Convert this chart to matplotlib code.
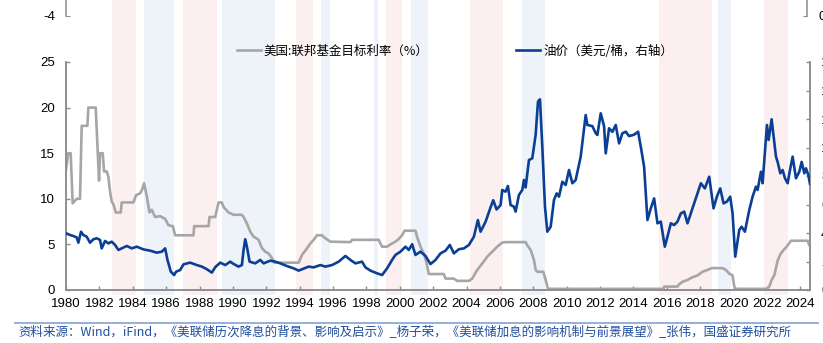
import matplotlib
matplotlib.use('Agg')
import matplotlib.pyplot as plt
from matplotlib.lines import Line2D

plt.rcParams['font.family'] = ['Liberation Sans', 'Noto Sans CJK SC', 'DejaVu Sans']
plt.rcParams['axes.unicode_minus'] = False

# 美国联邦基金目标利率 (%)
fed_years = [1980.0, 1980.14, 1980.28, 1980.40, 1980.54, 1980.64, 1980.84, 1980.94, 1981.28, 1981.34,
             1981.78, 1981.98, 1982.04, 1982.20, 1982.28, 1982.44, 1982.54, 1982.64, 1982.74, 1982.84,
             1982.98, 1983.28, 1983.34, 1984.04, 1984.20, 1984.44, 1984.56, 1984.68, 1984.84, 1985.00,
             1985.14, 1985.34, 1985.64, 1985.94, 1986.14, 1986.40, 1986.54, 1987.64, 1987.68, 1988.54,
             1988.60, 1988.94, 1989.14, 1989.34, 1989.44, 1989.74, 1990.04, 1990.54, 1990.64, 1990.84,
             1991.04, 1991.24, 1991.54, 1991.74, 1991.94, 1992.14, 1992.34, 1992.48, 1993.94, 1994.14,
             1994.44, 1994.64, 1994.84, 1995.04, 1995.34, 1995.48, 1995.84, 1997.04, 1997.14, 1998.74,
             1998.84, 1998.94, 1999.24, 1999.44, 1999.74, 1999.94, 2000.14, 2000.28, 2000.94, 2001.04,
             2001.24, 2001.44, 2001.60, 2001.74, 2002.64, 2002.74, 2003.24, 2003.44, 2004.14, 2004.34,
             2004.64, 2004.94, 2005.24, 2005.54, 2005.84, 2006.14, 2006.34, 2007.54, 2007.64, 2007.84,
             2008.04, 2008.14, 2008.24, 2008.60, 2008.74, 2008.88, 2015.80, 2015.84, 2016.64, 2016.74,
             2016.94, 2017.24, 2017.54, 2017.84, 2018.14, 2018.44, 2018.68, 2019.34, 2019.54, 2019.74,
             2019.94, 2020.04, 2020.10, 2022.00, 2022.14, 2022.28, 2022.44, 2022.54, 2022.64, 2022.80,
             2023.00, 2023.16, 2023.28, 2023.44, 2024.44, 2024.54, 2024.60]
fed_rate = [13.2, 15.0, 15.0, 9.5, 9.8, 10.0, 10.0, 18.0, 18.0, 20.0,
            20.0, 12.0, 15.0, 15.0, 13.0, 13.0, 12.4, 10.8, 9.7, 9.4,
            8.5, 8.5, 9.6, 9.6, 10.4, 10.6, 11.0, 11.7, 10.3, 8.5,
            8.8, 8.0, 8.1, 7.8, 7.1, 7.0, 6.0, 6.0, 7.0, 7.0,
            8.0, 8.0, 9.6, 9.6, 9.1, 8.5, 8.25, 8.25, 8.0, 7.3,
            6.4, 5.85, 5.5, 4.6, 4.2, 4.0, 3.5, 3.0, 3.0, 3.84,
            4.57, 5.1, 5.5, 6.0, 6.0, 5.75, 5.3, 5.25, 5.5, 5.5,
            5.1, 4.75, 4.75, 5.0, 5.3, 5.6, 6.0, 6.5, 6.5, 5.8,
            4.75, 4.0, 3.0, 1.75, 1.75, 1.25, 1.25, 1.0, 1.0, 1.25,
            2.2, 2.9, 3.65, 4.2, 4.75, 5.2, 5.25, 5.25, 4.9, 4.4,
            3.3, 2.2, 2.0, 2.0, 1.1, 0.125, 0.125, 0.375, 0.375, 0.625,
            0.9, 1.1, 1.4, 1.6, 2.0, 2.2, 2.4, 2.4, 2.2, 1.8,
            1.6, 0.4, 0.125, 0.125, 0.375, 1.1, 1.6, 2.4, 3.2, 3.9,
            4.4, 4.7, 5.0, 5.4, 5.4, 4.9, 4.8]

# 油价 (美元/桶, 右轴)
oil_years = [1980.0, 1980.24, 1980.44, 1980.64, 1980.74, 1980.90, 1981.04, 1981.24, 1981.44, 1981.64,
             1981.84, 1982.04, 1982.14, 1982.34, 1982.54, 1982.74, 1982.94, 1983.14, 1983.34, 1983.64,
             1983.94, 1984.24, 1984.64, 1985.04, 1985.44, 1985.74, 1985.94, 1986.08, 1986.28, 1986.48,
             1986.60, 1986.84, 1987.04, 1987.44, 1987.84, 1988.14, 1988.44, 1988.74, 1988.94, 1989.24,
             1989.54, 1989.84, 1990.04, 1990.34, 1990.54, 1990.64, 1990.74, 1990.84, 1991.00, 1991.34,
             1991.64, 1991.84, 1992.24, 1992.54, 1992.84, 1993.24, 1993.64, 1993.94, 1994.54, 1994.84,
             1995.24, 1995.54, 1995.94, 1996.34, 1996.74, 1997.04, 1997.34, 1997.74, 1997.94, 1998.24,
             1998.64, 1998.94, 1999.24, 1999.54, 1999.74, 2000.04, 2000.34, 2000.54, 2000.74, 2000.94,
             2001.24, 2001.54, 2001.84, 2002.14, 2002.44, 2002.74, 2003.00, 2003.24, 2003.54, 2003.84,
             2004.14, 2004.44, 2004.68, 2004.84, 2005.14, 2005.44, 2005.60, 2005.80, 2006.04, 2006.14,
             2006.34, 2006.48, 2006.64, 2006.84, 2006.94, 2007.14, 2007.34, 2007.44, 2007.54, 2007.74,
             2007.94, 2008.14, 2008.28, 2008.40, 2008.54, 2008.70, 2008.84, 2009.04, 2009.24, 2009.40,
             2009.54, 2009.74, 2009.94, 2010.14, 2010.34, 2010.54, 2010.84, 2011.14, 2011.24, 2011.54,
             2011.74, 2011.84, 2012.04, 2012.24, 2012.34, 2012.54, 2012.74, 2012.94, 2013.14, 2013.34,
             2013.54, 2013.74, 2014.04, 2014.28, 2014.44, 2014.64, 2014.84, 2015.04, 2015.24, 2015.44,
             2015.64, 2015.88, 2016.04, 2016.24, 2016.44, 2016.64, 2016.84, 2017.04, 2017.24, 2017.54,
             2017.84, 2018.04, 2018.28, 2018.54, 2018.80, 2019.00, 2019.20, 2019.40, 2019.60, 2019.80,
             2019.94, 2020.10, 2020.34, 2020.48, 2020.68, 2020.94, 2021.14, 2021.34, 2021.44, 2021.64,
             2021.74, 2022.00, 2022.10, 2022.28, 2022.54, 2022.64, 2022.80, 2022.94, 2023.08, 2023.24,
             2023.40, 2023.54, 2023.74, 2023.94, 2024.08, 2024.24, 2024.34, 2024.48, 2024.58]
oil_price = [39.8, 38.6, 37.9, 36.9, 33.2, 40.9, 38.6, 37.4, 33.2, 35.6,
             36.3, 35.1, 29.2, 34.4, 32.7, 33.9, 31.6, 28.1, 29.2, 30.9,
             29.2, 30.4, 28.5, 27.6, 26.2, 26.9, 29.2, 21.1, 12.9, 10.5,
             12.9, 14.0, 18.0, 19.2, 17.5, 16.4, 14.6, 12.2, 16.0, 19.2,
             17.5, 19.9, 18.3, 16.4, 17.5, 28.1, 35.6, 30.4, 19.9, 18.7,
             21.1, 18.7, 20.6, 19.9, 18.7, 16.8, 15.2, 13.6, 16.4, 15.9,
             17.5, 16.4, 17.5, 19.9, 23.9, 21.1, 18.7, 19.9, 15.9, 13.6,
             11.7, 10.5, 15.2, 21.1, 24.6, 26.9, 30.4, 28.1, 32.1, 24.6,
             26.9, 23.9, 18.2, 21.1, 25.7, 27.6, 31.6, 25.7, 28.6, 29.2,
             31.6, 37.4, 49.1, 40.9, 47.9, 58.0, 63.0, 56.5, 59.6, 70.2,
             69.0, 73.0, 59.6, 58.5, 55.0, 66.7, 70.2, 77.2, 72.0, 91.2,
             92.4, 108.8, 132.2, 133.8, 100.6, 58.5, 40.9, 44.4, 63.2, 67.8,
             65.5, 76.0, 73.7, 84.2, 74.9, 77.2, 93.6, 122.8, 115.8, 115.0,
             110.0, 108.8, 124.0, 115.0, 95.9, 113.5, 111.0, 115.8, 102.9, 110.0,
             111.1, 108.0, 109.0, 111.1, 100.6, 86.5, 49.1, 57.3, 64.3, 46.8,
             48.0, 30.4, 37.4, 46.8, 45.6, 48.0, 53.8, 55.0, 46.8, 57.3,
             67.8, 74.9, 71.3, 79.5, 57.3, 65.5, 71.3, 60.8, 62.0, 65.5,
             53.8, 23.4, 42.1, 44.4, 40.9, 56.1, 65.5, 72.5, 70.2, 83.0,
             74.9, 115.8, 105.3, 119.8, 93.6, 89.9, 81.9, 84.2, 78.4, 74.9,
             85.4, 93.6, 78.4, 83.0, 89.9, 81.9, 85.4, 80.7, 74.4]

# shaded periods (start, end)
pink_periods = [(1982.75, 1984.2), (1987.0, 1989.05), (1993.8, 1994.8), (1999.2, 2000.15),
                (2004.2, 2006.2), (2015.55, 2018.7), (2021.8, 2023.25)]
blue_periods = [(1984.7, 1986.5), (1989.35, 1992.5), (1995.3, 1995.8), (1998.45, 1998.7),
                (2000.65, 2001.7), (2007.3, 2008.7), (2019.05, 2019.85)]

year_ticks = list(range(1980, 2025, 2))
left_ticks = [0, 5, 10, 15, 20, 25]
right_ticks = [0, 20, 40, 60, 80, 100, 120, 140, 160]

source_text = ('资料来源：Wind，iFind，《美联储历次降息的背景、影响及启示》_杨子荣，'
               '《美联储加息的影响机制与前景展望》_张伟，国盛证券研究所')

W, H = 823, 343
fig = plt.figure(figsize=(W / 100, H / 100), dpi=100)

gray = '#a6a6a6'
blue = '#0b3f95'
spine_c = '#8c8c8c'

# main chart
ax = fig.add_axes([66 / W, (H - 290) / H, (810 - 66) / W, 228 / H])
ax2 = ax.twinx()

for s, e in pink_periods:
    ax.axvspan(s, e, ymin=-0.022, ymax=1.28, color='#fcefef', lw=0, clip_on=False, zorder=0)
for s, e in blue_periods:
    ax.axvspan(s, e, ymin=-0.022, ymax=1.28, color='#eef2f9', lw=0, clip_on=False, zorder=0)

ax.plot(fed_years, fed_rate, color=gray, lw=1.9, zorder=3)
ax2.plot(oil_years, oil_price, color=blue, lw=1.9, zorder=3)

ax.set_xlim(1980, 2024.58)
ax.set_ylim(0, 25)
ax2.set_ylim(0, 160)
ax.set_xticks(year_ticks)
ax.set_yticks(left_ticks)
ax2.set_yticks(right_ticks)

for a in (ax, ax2):
    a.spines['top'].set_visible(False)
    for side in ('left', 'right', 'bottom'):
        a.spines[side].set_color(spine_c)
        a.spines[side].set_linewidth(1.1)
    a.tick_params(direction='in', length=3, width=1, color=spine_c,
                  labelsize=9.5, labelcolor='#000000')
ax.tick_params(axis='y', pad=8)
ax.tick_params(axis='x', pad=6)
ax2.tick_params(axis='y', pad=8)
ax.set_zorder(1)
ax2.set_zorder(2)
ax.patch.set_visible(False)
ax2.patch.set_visible(False)

# remnant of the chart above
top = fig.add_axes([66 / W, (H - 16) / H, (807 - 66) / W, 0.1])
top.patch.set_visible(False)
top.set_ylim(-4, 0)
top.set_yticks([-4])
top.set_xticks([])
for side in ('top', 'bottom'):
    top.spines[side].set_visible(False)
for side in ('left', 'right'):
    top.spines[side].set_color(spine_c)
    top.spines[side].set_linewidth(1.1)
top.tick_params(direction='in', length=3, color=spine_c, labelsize=9.5, pad=8)
top_r = top.twinx()
top_r.set_ylim(0, 1)
top_r.set_yticks([0])
for side in ('top', 'bottom', 'left', 'right'):
    top_r.spines[side].set_visible(False)
top_r.tick_params(direction='in', length=3, color=spine_c, labelsize=9.5, pad=8)

# legend
handles = [Line2D([], [], color=gray, lw=1.9), Line2D([], [], color=blue, lw=1.9)]
labels = ['美国:联邦基金目标利率（%）', '油价（美元/桶，右轴）']
fig.legend(handles, labels, loc='center', bbox_to_anchor=(455 / W, (H - 51) / H),
           ncol=2, frameon=False, handlelength=1.9, handletextpad=0.25,
           columnspacing=7.0, prop={'family': ['Noto Sans CJK SC', 'DejaVu Sans'], 'size': 9})

# source line
fig.add_artist(Line2D([15 / W, 818 / W], [(H - 322.5) / H] * 2, color='#8ea9d4', lw=1.3))
fig.text(18 / W, (H - 333) / H, source_text, fontsize=9, color='#1f4f9e',
         va='center', ha='left', family=['Noto Sans CJK SC', 'DejaVu Sans'])

fig.savefig('out.png', dpi=100)
